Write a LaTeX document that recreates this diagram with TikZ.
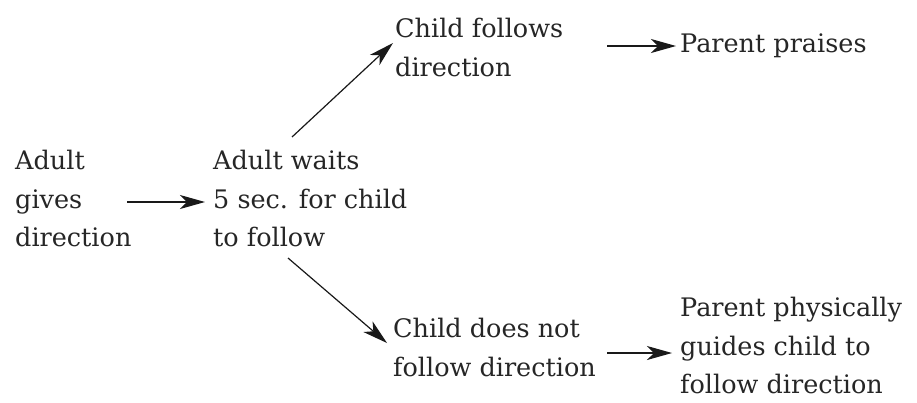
\documentclass[tikz,border=0pt]{standalone}
\usepackage{fontspec}
\setmainfont{DejaVu Serif}
\usetikzlibrary{arrows.meta,calc}
\begin{document}
\begin{tikzpicture}[x=1pt,y=-1pt,
  txt/.style={anchor=north west,inner sep=0pt,align=left,text=black!85,
    font=\fontsize{25.5}{38.5}\selectfont},
  arr/.style={-{Stealth[length=25pt,width=14pt,inset=7pt]},line width=1.2pt,black!90}]
\useasboundingbox[fill=white] (0,0) rectangle (917,402);
\node[txt] (a) at (15,150) {Adult\\gives\\direction};
\node[txt] (b) at (213,150) {Adult waits\\5 sec. for child\\to follow};
\node[txt] (c) at (395,18) {Child follows\\direction};
\node[txt] (d) at (680,34) {Parent praises};
\node[txt] (e) at (393,318) {Child does not\\follow direction};
\node[txt] (f) at (680,297) {Parent physically\\guides child to\\follow direction};
\draw[arr] ($(a.north west)+(112,52)$) -- ($(b.north west)+(-8,52)$);
\draw[arr] ($(b.north west)+(79,-13)$) -- ($(c.north west)+(-2,25)$);
\draw[arr] ($(c.north west)+(212,28)$) -- ($(d.north west)+(-4,12)$);
\draw[arr] ($(b.north west)+(75,108)$) -- ($(e.north west)+(-6,25)$);
\draw[arr] ($(e.north west)+(214,35)$) -- ($(f.north west)+(-8,56)$);
\end{tikzpicture}
\end{document}
